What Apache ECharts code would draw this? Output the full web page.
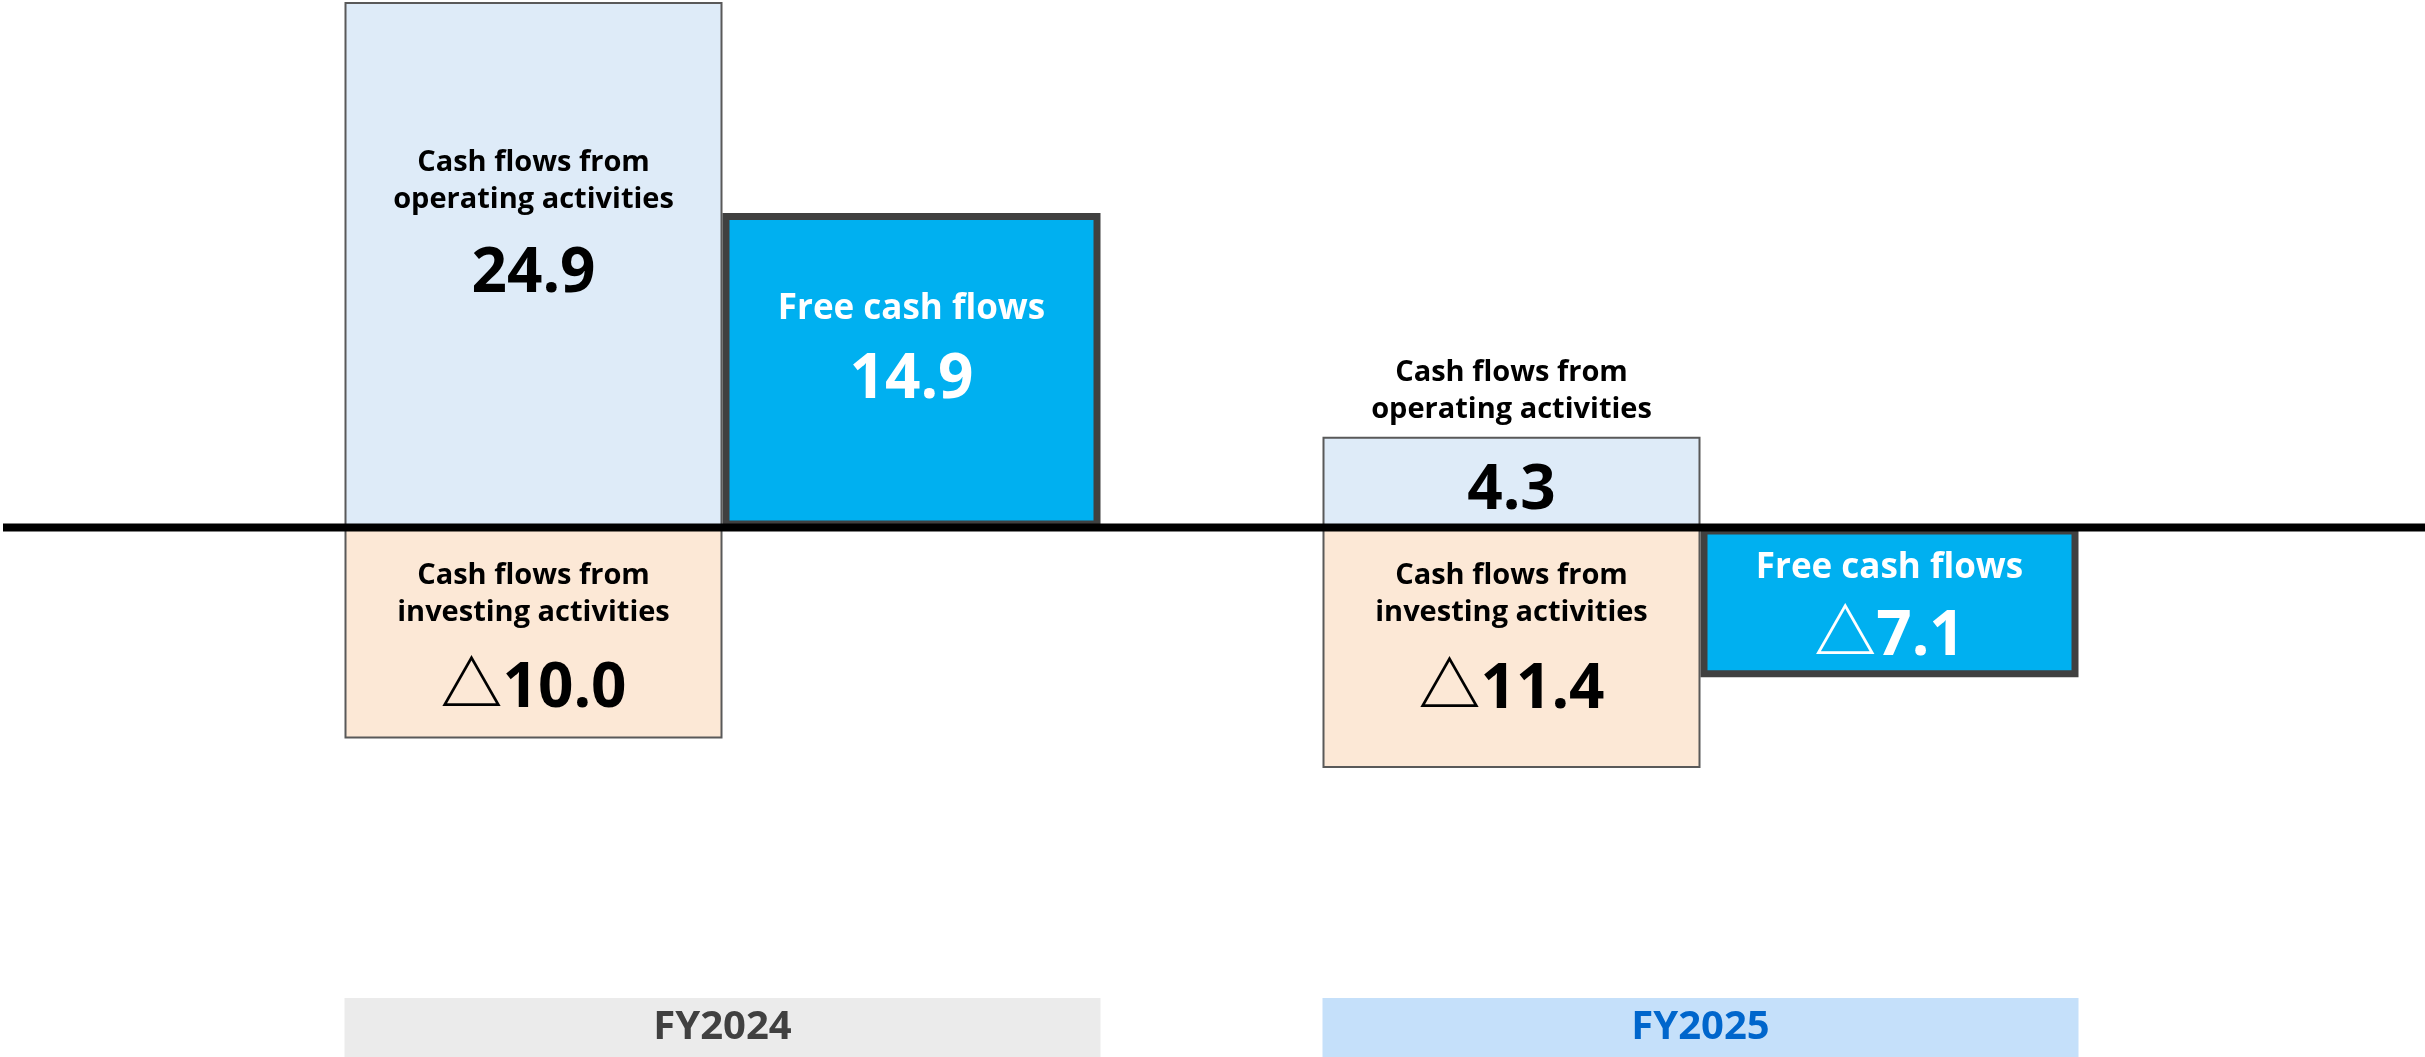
<!DOCTYPE html>
<html lang="en">

<head>
    <meta charset="UTF-8">
    <script src="https://cdn.jsdelivr.net/npm/echarts@6.0.0/dist/echarts.min.js"></script>
    <title>Cash flows</title>
    <style>
        html, body {
            margin: 0;
            padding: 0;
            background: #fff;
        }
        #main {
            width: 2425px;
            height: 1057px;
        }
    </style>
</head>

<body>
    <div id="main"></div>
    <script>
        var categories = ['FY2024', 'FY2025'];
        var operating = [24.9, 4.3];
        var investing = [-10.0, -11.4];
        var freeCash = [14.9, -7.1];

        var operatingName = ['Cash flows from', 'operating activities'];
        var investingName = ['Cash flows from', 'investing activities'];
        var freeName = ['Free cash flows'];

        var FONT = "'Open Sans', 'Noto Sans CJK JP', sans-serif";

        function fmt(v) {
            return (v < 0 ? '\u25B3' : '') + Math.abs(v).toFixed(1);
        }

        // label block placement inside each bar: vertical shift and value line height
        var fit = {
            operating: [{ dy: -27.5, lv: 112 }, { dy: -27.5, lv: 127 }],
            investing: [{ dy: 19.5, lv: 116 }, { dy: 6, lv: 119 }],
            free: [{ dy: -10, lv: 103 }, { dy: 15, lv: 98 }]
        };

        function items(values, title, place, white) {
            return values.map(function (v, i) {
                var lines = title.map(function (t) { return '{t|' + t + '}'; });
                lines.push('{v|' + fmt(v) + '}');
                return {
                    value: v,
                    label: {
                        show: true,
                        position: 'inside',
                        offset: [0, place[i].dy],
                        formatter: lines.join('\n'),
                        rich: {
                            t: {
                                fontFamily: FONT,
                                fontWeight: 'bold',
                                fontSize: white ? 35 : 29,
                                lineHeight: white ? 40 : 37,
                                color: white ? '#fff' : '#000',
                                align: 'center'
                            },
                            v: {
                                fontFamily: FONT,
                                fontWeight: 'bold',
                                fontSize: 62,
                                lineHeight: place[i].lv,
                                color: white ? '#fff' : '#000',
                                align: 'center'
                            }
                        }
                    }
                };
            });
        }

        var chart = echarts.init(document.getElementById('main'));
        var option = {
            animation: false,
            grid: {
                left: 233.5,
                width: 1956,
                top: 0,
                height: 998,
                outerBoundsMode: 'none'
            },
            xAxis: {
                type: 'category',
                data: categories,
                axisLine: { show: false },
                axisTick: { show: false },
                axisLabel: {
                    interval: 0,
                    margin: 0,
                    formatter: function (v, i) {
                        return (i === 0 ? '{a|' : '{b|') + v + '}';
                    },
                    rich: {
                        a: {
                            fontFamily: FONT, fontWeight: 'bold', fontSize: 40,
                            color: '#404040', backgroundColor: '#EBEBEB',
                            width: 756, height: 59, lineHeight: 59, align: 'center'
                        },
                        b: {
                            fontFamily: FONT, fontWeight: 'bold', fontSize: 40,
                            color: '#0066CC', backgroundColor: '#C5E0FA',
                            width: 756, height: 59, lineHeight: 59, align: 'center'
                        }
                    }
                }
            },
            yAxis: {
                type: 'value',
                min: -22.3,
                max: 25,
                show: false,
                splitLine: { show: false }
            },
            series: [
                {
                    name: 'operating',
                    type: 'bar',
                    stack: 'cf',
                    barWidth: 378,
                    barGap: '0%',
                    itemStyle: { color: '#DEEBF8', borderColor: '#595959', borderWidth: 2 },
                    emphasis: { disabled: true },
                    data: items(operating, operatingName, fit.operating, false)
                },
                {
                    name: 'investing',
                    type: 'bar',
                    stack: 'cf',
                    barWidth: 378,
                    barGap: '0%',
                    itemStyle: { color: '#FCE8D6', borderColor: '#595959', borderWidth: 2 },
                    emphasis: { disabled: true },
                    data: items(investing, investingName, fit.investing, false)
                },
                {
                    name: 'free',
                    type: 'bar',
                    barWidth: 378,
                    barGap: '0%',
                    z: 3,
                    itemStyle: { color: '#00B0F0', borderColor: '#404040', borderWidth: 7 },
                    emphasis: { disabled: true },
                    data: items(freeCash, freeName, fit.free, true)
                }
            ]
        };
        chart.setOption(option);

        // zero line runs across the whole picture, wider than the grid
        var y0 = chart.convertToPixel({ yAxisIndex: 0 }, 0);
        chart.setOption({
            graphic: [{
                type: 'line',
                z: 100,
                shape: { x1: 3, y1: y0, x2: 2425, y2: y0 },
                style: { stroke: '#000', lineWidth: 8 }
            }]
        });
    </script>
</body>

</html>
